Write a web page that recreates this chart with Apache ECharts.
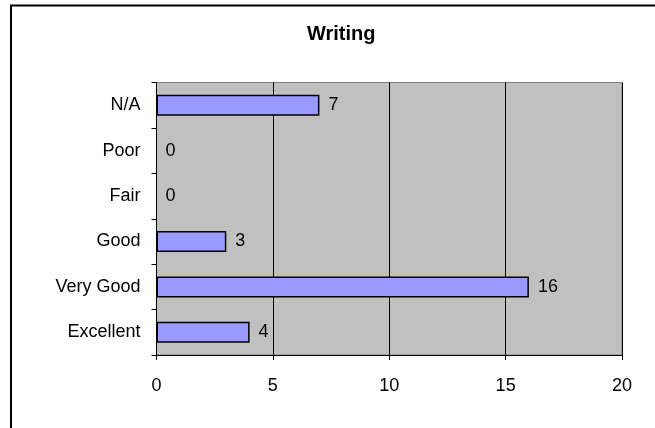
<!DOCTYPE html>
<html>
<head>
<meta charset="utf-8">
<script src="https://cdn.jsdelivr.net/npm/echarts@6/dist/echarts.min.js"></script>
<style>
html,body{margin:0;padding:0;background:#fff;}
#chart{width:655px;height:428px;}
</style>
</head>
<body>
<div id="chart"></div>
<script>
const titleText = "Writing";
const categories = ["Excellent", "Very Good", "Good", "Fair", "Poor", "N/A"];
const values = [4, 16, 3, 0, 0, 7];
const xTicks = [0, 5, 10, 15, 20];

const chart = echarts.init(document.getElementById('chart'), null, {renderer: 'canvas'});
const font = '"Liberation Sans", Arial, sans-serif';
chart.setOption({
  animation: false,
  backgroundColor: '#ffffff',
  textStyle: {fontFamily: font},
  title: {
    text: titleText,
    left: 302,
    top: 19,
    textStyle: {fontFamily: font, fontSize: 20, fontWeight: 'bold', color: '#000'}
  },
  graphic: [{
    type: 'polyline',
    shape: {points: [[11, 430], [11, 5.5], [660, 5.5]]},
    style: {stroke: '#000', lineWidth: 2, fill: null},
    silent: true
  }],
  grid: {
    left: 156.5, right: 33, top: 82.5, bottom: 73,
    show: true, backgroundColor: '#C0C0C0', borderColor: '#808080', borderWidth: 1,
    containLabel: false
  },
  xAxis: {
    type: 'value', min: xTicks[0], max: xTicks[xTicks.length - 1], interval: 5,
    axisLine: {show: true, lineStyle: {color: '#000', width: 1}},
    axisTick: {show: true, length: 5, lineStyle: {color: '#000'}},
    axisLabel: {color: '#000', fontSize: 18, fontFamily: font, margin: 22},
    splitLine: {show: true, lineStyle: {color: '#000', width: 1}}
  },
  yAxis: {
    type: 'category', data: categories,
    axisLine: {show: true, lineStyle: {color: '#000', width: 1}},
    axisTick: {show: true, length: 5, lineStyle: {color: '#000'}},
    axisLabel: {color: '#000', fontSize: 18, fontFamily: font, margin: 16},
    splitLine: {show: false}
  },
  series: [{
    type: 'bar',
    data: values.map(v => ({value: v, itemStyle: {borderWidth: v === 0 ? 0 : 1.5}})),
    barWidth: 21,
    itemStyle: {color: '#9999FF', borderColor: '#000', borderWidth: 1.5},
    label: {show: true, position: 'right', distance: 9, color: '#000', fontSize: 18, fontFamily: font}
  }]
});
</script>
</body>
</html>
